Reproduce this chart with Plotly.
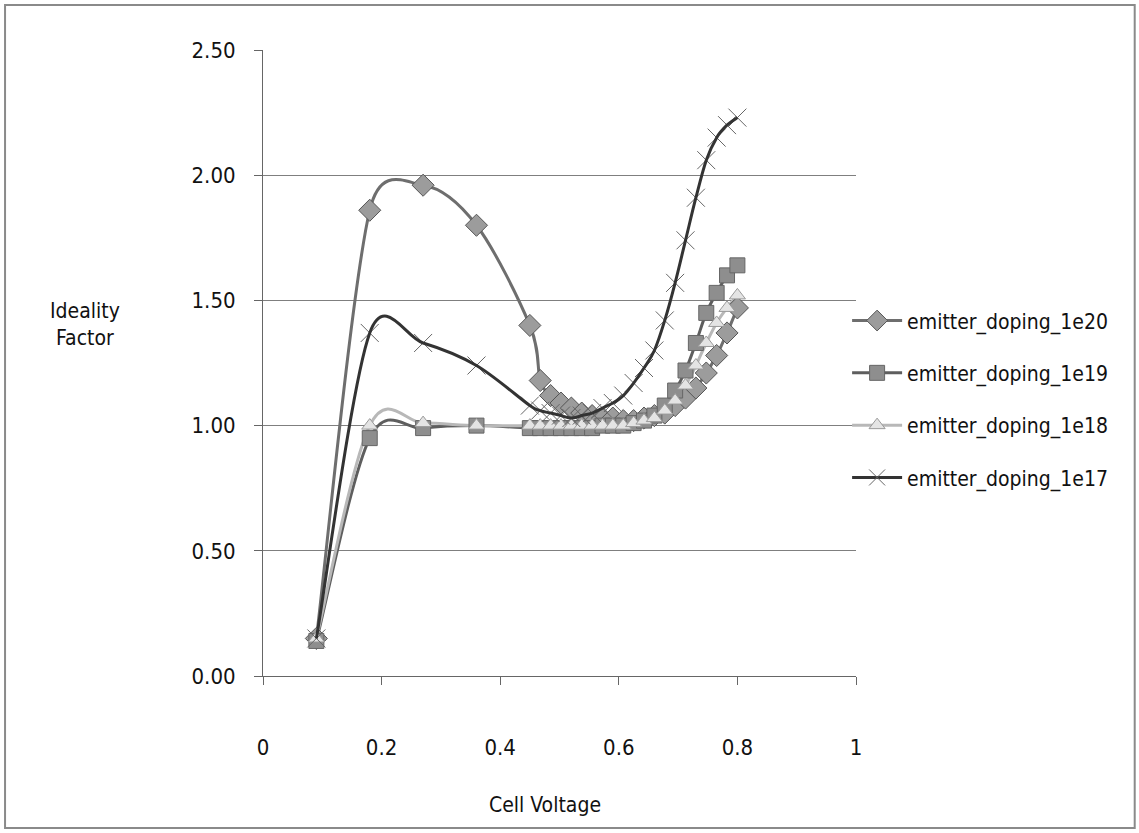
import math
import plotly.graph_objects as go

# Cell voltage sweep (V)
voltage = [0.09, 0.18, 0.27, 0.36, 0.45, 0.4675, 0.485, 0.5025, 0.52, 0.5375,
           0.555, 0.5725, 0.59, 0.6075, 0.625, 0.6425, 0.66, 0.6775, 0.695,
           0.7125, 0.73, 0.7475, 0.765, 0.7825, 0.80]

# Ideality factor for each emitter doping level
n_1e20 = [0.15, 1.86, 1.96, 1.80, 1.40, 1.18, 1.12, 1.09, 1.07, 1.05,
          1.04, 1.03, 1.03, 1.02, 1.02, 1.03, 1.04, 1.05, 1.08,
          1.11, 1.15, 1.21, 1.28, 1.37, 1.47]
n_1e19 = [0.14, 0.95, 0.99, 1.00, 0.99, 0.99, 0.99, 0.99, 0.99, 0.99,
          0.99, 1.00, 1.00, 1.00, 1.01, 1.02, 1.04, 1.08, 1.14,
          1.22, 1.33, 1.45, 1.53, 1.60, 1.64]
n_1e18 = [0.15, 1.00, 1.01, 1.00, 1.00, 1.00, 1.00, 1.00, 1.00, 1.00,
          1.00, 1.00, 1.00, 1.00, 1.01, 1.02, 1.03, 1.06, 1.10,
          1.16, 1.24, 1.33, 1.41, 1.47, 1.52]
n_1e17 = [0.15, 1.37, 1.33, 1.24, 1.08, 1.06, 1.05, 1.04, 1.03, 1.04,
          1.05, 1.07, 1.09, 1.12, 1.17, 1.23, 1.30, 1.42, 1.57,
          1.74, 1.91, 2.06, 2.15, 2.20, 2.23]

series_names = ["emitter_doping_1e20", "emitter_doping_1e19",
                "emitter_doping_1e18", "emitter_doping_1e17"]

y_ticks = [0.0, 0.5, 1.0, 1.5, 2.0, 2.5]
x_ticks = [0, 0.2, 0.4, 0.6, 0.8, 1]

FONT = "Liberation Sans Narrow, DejaVu Sans Condensed, Lato, sans-serif"

W, H = 1139, 833
MARGIN = dict(l=263, r=283, t=50, b=157)
X_RANGE = [0, 1]
Y_RANGE = [0, 2.5]
# screen scale (px per data unit), used to limit the smoothing handles
SX = (W - MARGIN["l"] - MARGIN["r"]) / (X_RANGE[1] - X_RANGE[0])
SY = (H - MARGIN["t"] - MARGIN["b"]) / (Y_RANGE[1] - Y_RANGE[0])
HANDLE_CAP = 0.8  # max handle length as a fraction of the segment length


def smooth_path(xs, ys):
    """Cubic Bezier path through the points, spreadsheet-style smoothing
    (handles = 1/6 of the neighbour chord, capped relative to the segment)."""
    n = len(xs)
    parts = [f"M {xs[0]},{ys[0]}"]
    for i in range(n - 1):
        a = i - 1 if i > 0 else i
        b = i + 2 if i + 2 < n else i + 1
        t1x, t1y = (xs[i + 1] - xs[a]) / 6, (ys[i + 1] - ys[a]) / 6
        t2x, t2y = (xs[b] - xs[i]) / 6, (ys[b] - ys[i]) / 6
        seg = math.hypot((xs[i + 1] - xs[i]) * SX, (ys[i + 1] - ys[i]) * SY)
        handles = []
        for tx, ty in ((t1x, t1y), (t2x, t2y)):
            ln = math.hypot(tx * SX, ty * SY)
            k = min(1.0, HANDLE_CAP * seg / ln) if ln > 0 else 1.0
            handles.append((tx * k, ty * k))
        (u1x, u1y), (u2x, u2y) = handles
        parts.append(
            f"C {xs[i] + u1x:.5f},{ys[i] + u1y:.5f} "
            f"{xs[i + 1] - u2x:.5f},{ys[i + 1] - u2y:.5f} "
            f"{xs[i + 1]},{ys[i + 1]}"
        )
    return " ".join(parts)


styles = [
    dict(line=dict(color="#6e6e6e", width=3),
         marker=dict(symbol="diamond", size=17, color="#9c9c9c",
                     line=dict(color="#555555", width=1))),
    dict(line=dict(color="#5e5e5e", width=3),
         marker=dict(symbol="square", size=15, color="#8e8e8e",
                     line=dict(color="#666666", width=1))),
    dict(line=dict(color="#b8b8b8", width=3),
         marker=dict(symbol="triangle-up", size=14, color="#e4e4e4",
                     line=dict(color="#9a9a9a", width=1))),
    dict(line=dict(color="#333333", width=3),
         marker=dict(symbol="x-thin", size=18, color="#666666",
                     line=dict(color="#666666", width=1))),
]

fig = go.Figure()
shapes = []
all_series = [n_1e20, n_1e19, n_1e18, n_1e17]
for idx, (name, vals, st) in enumerate(zip(series_names, all_series, styles)):
    # smoothed connecting line
    shapes.append(dict(
        type="path", xref="x", yref="y", path=smooth_path(voltage, vals),
        line=dict(color=st["line"]["color"], width=st["line"]["width"]),
        layer="above" if idx == len(series_names) - 1 else "between",
    ))
    # data markers
    fig.add_trace(go.Scatter(
        x=voltage, y=vals, name=name, legendgroup=name, showlegend=False,
        mode="markers", marker=st["marker"], cliponaxis=False,
    ))

# legend entries (line + marker sample)
for name, st in zip(series_names, styles):
    fig.add_trace(go.Scatter(
        x=[None], y=[None], name=name, legendgroup=name,
        mode="lines+markers", line=st["line"], marker=st["marker"],
    ))

shapes.append(dict(type="rect", xref="paper", yref="paper",
                   x0=-0.435, x1=1.470, y0=-0.243, y1=1.072,
                   line=dict(color="#8a8a8a", width=2)))

fig.update_layout(
    width=W, height=H,
    margin=MARGIN,
    paper_bgcolor="white", plot_bgcolor="white",
    font=dict(family=FONT, size=22, color="#111111"),
    showlegend=True,
    legend=dict(x=0.985, y=0.60, xanchor="left", yanchor="top",
                font=dict(family=FONT, size=21, color="#111111"),
                tracegroupgap=22, itemwidth=50, bgcolor="rgba(0,0,0,0)"),
    xaxis=dict(range=X_RANGE, tickvals=x_ticks, ticktext=[str(v) for v in x_ticks],
               showgrid=False, zeroline=False,
               showline=True, linecolor="#666666", linewidth=1,
               ticks="outside", ticklen=8, tickcolor="#666666",
               ticklabelstandoff=44),
    yaxis=dict(range=Y_RANGE, tickvals=y_ticks, tickformat=".2f",
               showgrid=True, gridcolor="#7f7f7f", gridwidth=1,
               zeroline=False,
               showline=True, linecolor="#666666", linewidth=1,
               ticks="outside", ticklen=8, tickcolor="#666666",
               ticklabelstandoff=14),
    annotations=[
        dict(text="Cell Voltage", xref="paper", yref="paper",
             x=0.476, y=-0.206, xanchor="center", yanchor="middle",
             showarrow=False,
             font=dict(family=FONT, size=21, color="#111111")),
        dict(text="Ideality<br>Factor", xref="paper", yref="paper",
             x=-0.300, y=0.561, xanchor="center", yanchor="middle",
             showarrow=False,
             font=dict(family=FONT, size=21, color="#111111")),
    ],
    shapes=shapes,
)

fig.write_html("out.html")
